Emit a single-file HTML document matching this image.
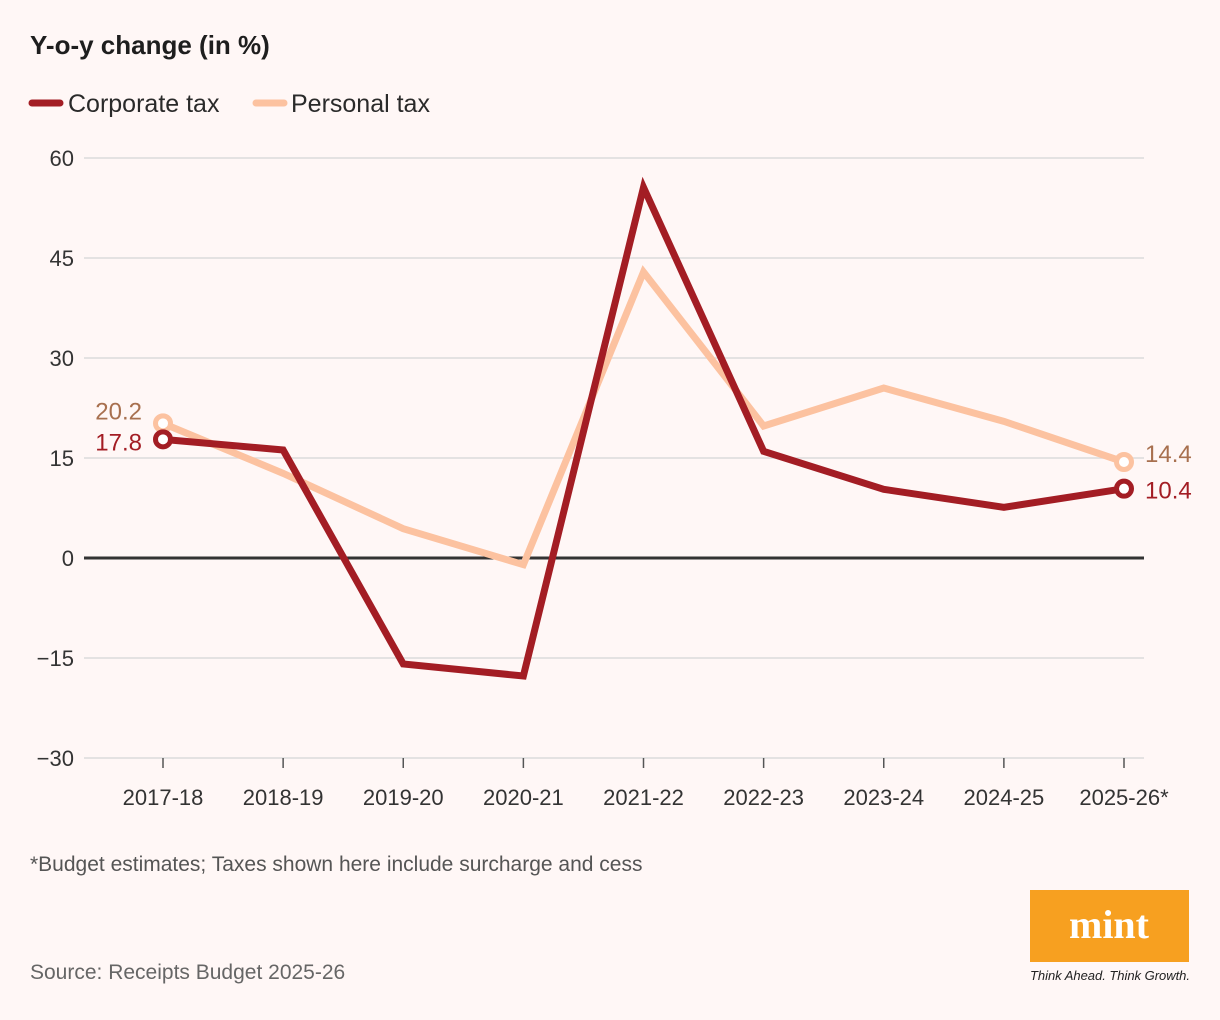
<!DOCTYPE html>
<html><head><meta charset="utf-8"><style>
body{margin:0;background:#fff7f6;font-family:"Liberation Sans",sans-serif}
#wrap{position:relative;width:1220px;height:1020px;background:#fff7f6;overflow:hidden}
</style></head><body>
<div id="wrap">
<svg id="chart" width="1220" height="1020"></svg>
</div>
<script>
const categories=["2017-18","2018-19","2019-20","2020-21","2021-22","2022-23","2023-24","2024-25","2025-26*"];
const corporateTax=[17.8,16.2,-15.9,-17.7,55.6,16.0,10.3,7.6,10.4];
const personalTax=[20.2,12.7,4.4,-1.0,42.9,19.8,25.5,20.5,14.4];
const yTicks=[60,45,30,15,0,-15,-30];
const yTickLabels=["60","45","30","15","0","\u221215","\u221230"];

const NS="http://www.w3.org/2000/svg";
const svg=document.getElementById('chart');
function el(tag,attrs,parent){const e=document.createElementNS(NS,tag);for(const k in attrs)e.setAttribute(k,attrs[k]);(parent||svg).appendChild(e);return e;}
const y=v=>558-(v)*600/90;
const x=i=>163+i*(1124-163)/(categories.length-1);

let t=el('text',{x:30,y:54,'font-size':26,'font-weight':'bold',fill:'#1e1e1e'});t.textContent='Y-o-y change (in %)';

let lg=el('line',{x1:32,y1:103,x2:60,y2:103,stroke:'#a31d24','stroke-width':7,'stroke-linecap':'round'});

t=el('text',{x:68,y:112,'font-size':25,fill:'#2a2a2a'});t.textContent='Corporate tax';

lg=el('line',{x1:256,y1:103,x2:284,y2:103,stroke:'#fcc2a0','stroke-width':7,'stroke-linecap':'round'});

t=el('text',{x:291,y:112,'font-size':25,fill:'#2a2a2a'});t.textContent='Personal tax';


yTicks.forEach((v,i)=>{
 const g=el('line',{x1:84,x2:1144,y1:y(v),y2:y(v),stroke:v===0?'#333':'#dcdcdc','stroke-width':v===0?3:1.5});
 
 const l=el('text',{x:74,y:y(v)+8,'font-size':22,fill:'#333','text-anchor':'end'});l.textContent=yTickLabels[i];
 
});
categories.forEach((c,i)=>{
 const tk=el('line',{x1:x(i),x2:x(i),y1:758,y2:768,stroke:'#555','stroke-width':1.5});
 
 const l=el('text',{x:x(i),y:805,'font-size':22,fill:'#333','text-anchor':'middle'});l.textContent=c;
 
});
function series(vals,color,name){
 const p=el('polyline',{points:vals.map((v,i)=>x(i)+','+y(v)).join(' '),fill:'none',stroke:color,'stroke-width':7,'stroke-linejoin':'miter'});
 
 [0,vals.length-1].forEach(i=>{
  const c=el('circle',{cx:x(i),cy:y(vals[i]),r:7.5,fill:'#fff',stroke:color,'stroke-width':5});
  
 });
}
series(personalTax,'#fcc2a0','personal-tax');
series(corporateTax,'#a31d24','corporate-tax');
const n=categories.length-1;
[[personalTax,'#a8704f','personal',-4,0],[corporateTax,'#a31d24','corporate',11,10]].forEach(([vals,col,nm,ds,de])=>{
 let a=el('text',{x:142,y:y(vals[0])+ds,'font-size':24,fill:col,'text-anchor':'end'});a.textContent=vals[0].toFixed(1);
 
 a=el('text',{x:1145,y:y(vals[n])+de,'font-size':24,fill:col});a.textContent=vals[n].toFixed(1);
 
});
t=el('text',{x:30,y:871,'font-size':21,fill:'#555'});t.textContent='*Budget estimates; Taxes shown here include surcharge and cess';

t=el('text',{x:30,y:979,'font-size':21,fill:'#666'});t.textContent='Source: Receipts Budget 2025-26';

const r=el('rect',{x:1030,y:890,width:159,height:72,fill:'#f7a020'});

t=el('text',{x:1109,y:938,'font-size':40,'font-weight':'bold','font-family':'Liberation Serif, serif',fill:'#fff','text-anchor':'middle'});t.textContent='mint';

t=el('text',{x:1030,y:980,'font-size':13,'font-style':'italic',fill:'#222',textLength:160});t.textContent='Think Ahead. Think Growth.';

</script>
</body></html>
